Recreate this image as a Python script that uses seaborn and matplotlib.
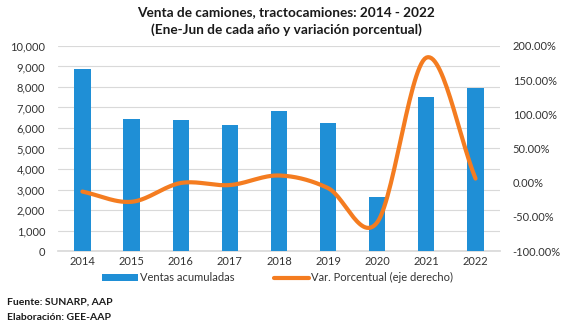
import numpy as np
import pandas as pd
import matplotlib
matplotlib.use("Agg")
import matplotlib.pyplot as plt
import seaborn as sns
from matplotlib.lines import Line2D
from matplotlib.patches import Patch

years = ["2014", "2015", "2016", "2017", "2018", "2019", "2020", "2021", "2022"]
ventas = [8870, 6440, 6380, 6150, 6830, 6260, 2640, 7530, 7940]
variacion = [-13.0, -28.0, -0.5, -3.5, 10.5, -8.0, -58.0, 183.0, 6.0]

title_lines = ["Venta de camiones, tractocamiones: 2014 - 2022",
               "(Ene-Jun de cada año y variación porcentual)"]
legend_labels = ["Ventas acumuladas", "Var. Porcentual (eje derecho)"]
notes = ["Fuente: SUNARP, AAP", "Elaboración: GEE-AAP"]

sns.set_theme(style="white")
plt.rcParams["font.family"] = ["Lato", "DejaVu Sans"]

df = pd.DataFrame({"year": years, "ventas": ventas, "var": variacion})

fig = plt.figure(figsize=(5.67, 3.26), dpi=100)
ax = fig.add_axes([0.102, 0.230, 0.780, 0.629])

bar_color = "#1f8fd6"
sns.barplot(data=df, x="year", y="ventas", ax=ax, color=bar_color, width=0.33,
            saturation=1, edgecolor="none", zorder=3)
ax.set_ylim(0, 10000)
ax.set_yticks(np.arange(0, 10001, 1000))
ax.yaxis.set_major_formatter(matplotlib.ticker.FuncFormatter(lambda v, p: f"{int(v):,}"))
ax.grid(axis="y", color="#d9d9d9", linewidth=0.8, zorder=0)
ax.set_axisbelow(True)
ax.set_xlabel("")
ax.set_ylabel("")
for s in ax.spines.values():
    s.set_visible(False)
ax.spines["bottom"].set_visible(True)
ax.spines["bottom"].set_color("#d9d9d9")
ax.tick_params(axis="both", length=0, labelsize=8, colors="#333333")
ax.tick_params(axis="y", pad=9)
ax.set_xlim(-0.5, len(years) - 0.5)

ax2 = ax.twinx()
# smooth curve (Catmull-Rom) through the read points, like Excel's smoothed line
xs = np.arange(len(years), dtype=float)
ys = np.array(variacion, dtype=float)
px = np.concatenate([[2 * xs[0] - xs[1]], xs, [2 * xs[-1] - xs[-2]]])
py = np.concatenate([[2 * ys[0] - ys[1]], ys, [2 * ys[-1] - ys[-2]]])
cx, cy = [], []
for i in range(1, len(px) - 2):
    t = np.linspace(0, 1, 30)
    p0, p1, p2, p3 = py[i - 1], py[i], py[i + 1], py[i + 2]
    q0, q1, q2, q3 = px[i - 1], px[i], px[i + 1], px[i + 2]
    yy = 0.5 * ((2 * p1) + (-p0 + p2) * t + (2 * p0 - 5 * p1 + 4 * p2 - p3) * t**2 + (-p0 + 3 * p1 - 3 * p2 + p3) * t**3)
    xx = 0.5 * ((2 * q1) + (-q0 + q2) * t + (2 * q0 - 5 * q1 + 4 * q2 - q3) * t**2 + (-q0 + 3 * q1 - 3 * q2 + q3) * t**3)
    cx.extend(xx)
    cy.extend(yy)
line_color = "#f47c20"
ax2.plot(cx, cy, color=line_color, linewidth=3, solid_capstyle="round", zorder=4)
ax2.set_ylim(-100, 200)
ax2.set_yticks(np.arange(-100, 201, 50))
ax2.yaxis.set_major_formatter(matplotlib.ticker.FuncFormatter(lambda v, p: f"{v:.2f}%"))
ax2.tick_params(axis="y", length=0, labelsize=8, colors="#333333", pad=9)
for s in ax2.spines.values():
    s.set_visible(False)
ax2.grid(False)
ax2.set_xlim(-0.5, len(years) - 0.5)

fig.text(0.505, 1 - 12 / 326, title_lines[0], ha="center", va="center", fontsize=9.8,
         fontweight="bold", color="#1a1a1a")
fig.text(0.505, 1 - 30 / 326, title_lines[1], ha="center", va="center", fontsize=9.8,
         fontweight="bold", color="#1a1a1a")

handles = [Patch(facecolor=bar_color, edgecolor="none"),
           Line2D([0], [0], color=line_color, linewidth=3, solid_capstyle="round")]
fig.legend(handles, legend_labels, loc="center", bbox_to_anchor=(0.49, 0.148), ncol=2,
           frameon=False, fontsize=8, handlelength=3.2, handleheight=0.6,
           handletextpad=0.2, columnspacing=3.5, labelcolor="#333333")

fig.text(0.012, 1 - 302 / 326, notes[0], ha="left", va="center", fontsize=7.5, fontweight="bold", color="#1a1a1a")
fig.text(0.012, 1 - 318 / 326, notes[1], ha="left", va="center", fontsize=7.5, fontweight="bold", color="#1a1a1a")

fig.savefig("out.png", dpi=100, facecolor="white")
